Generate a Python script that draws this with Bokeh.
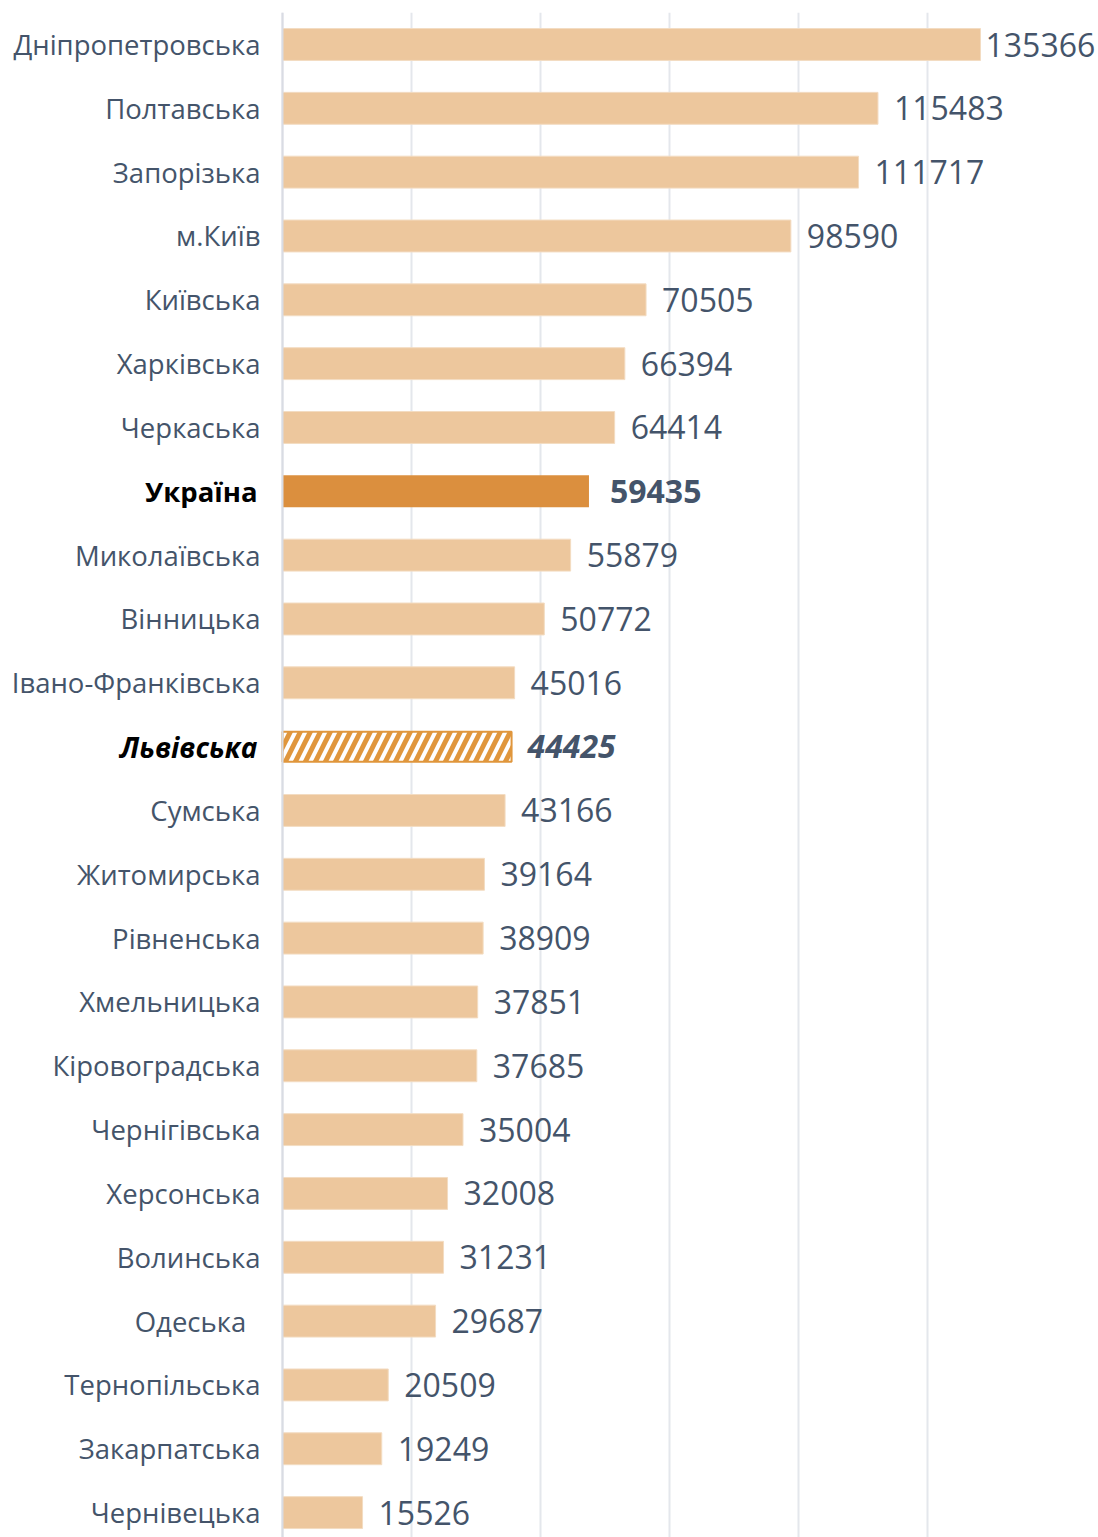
from bokeh.plotting import figure
from bokeh.models import Range1d, FixedTicker, ColumnDataSource, Span
from bokeh.core.properties import value
from bokeh.embed import file_html
from bokeh.resources import INLINE

regions = ["Дніпропетровська", "Полтавська", "Запорізька", "м.Київ", "Київська",
           "Харківська", "Черкаська", "Україна", "Миколаївська", "Вінницька",
           "Івано-Франківська", "Львівська", "Сумська", "Житомирська", "Рівненська",
           "Хмельницька", "Кіровоградська", "Чернігівська", "Херсонська", "Волинська",
           "Одеська\u00a0\u00a0", "Тернопільська", "Закарпатська", "Чернівецька"]
values = [135366, 115483, 111717, 98590, 70505, 66394, 64414, 59435, 55879, 50772,
          45016, 44425, 43166, 39164, 38909, 37851, 37685, 35004, 32008, 31231,
          29687, 20509, 19249, 15526]
tick_values = [0, 25000, 50000, 75000, 100000, 125000]
country = "Україна"
hatched = "Львівська"

W, H = 1098, 1537
top_border = 12
axis_px = 282            # pixel position of zero within the frame
px_per_unit = 698 / 135366
row_px = 63.83
first_center_px = 32

x_start = -axis_px / px_per_unit
x_end = (W - axis_px) / px_per_unit
frame_h = H - top_border
y_top = -first_center_px / row_px
y_bottom = (frame_h - first_center_px) / row_px

FONT = value("Open Sans")
TEXT_COL = "#44546A"
LIGHT = "#EDC79D"
DARK = "#DB8F3E"
HATCH = "#E0963C"

p = figure(width=W, height=H, output_backend="svg", toolbar_location=None,
           x_range=Range1d(x_start, x_end), y_range=Range1d(y_bottom, y_top),
           min_border_left=0, min_border_right=0, min_border_bottom=0,
           min_border_top=top_border)
p.outline_line_color = None
p.xaxis.visible = False
p.yaxis.visible = False
p.ygrid.visible = False
p.xgrid.ticker = FixedTicker(ticks=tick_values)
p.xgrid.grid_line_color = "#E4E7EC"
p.xgrid.grid_line_width = 2
p.background_fill_color = "white"
p.border_fill_color = "white"

p.add_layout(Span(location=0, dimension="height", line_color="#D9DCE3", line_width=2))

idx = list(range(len(regions)))
normal = [i for i in idx if regions[i] not in (country, hatched)]
ci = regions.index(country)
hi = regions.index(hatched)

src_n = ColumnDataSource(dict(y=[i for i in normal], v=[values[i] for i in normal],
                              lab=[regions[i] for i in normal],
                              vl=[str(values[i]) for i in normal],
                              off=[5 if values[i] == max(values) else 16 for i in normal]))
p.hbar(y="y", left=0, right="v", height=0.5, source=src_n,
       fill_color=LIGHT, line_color="#F3DCC2", line_width=1)
p.hbar(y=[ci], left=0, right=[values[ci]], height=0.5, fill_color=DARK, line_color=None)
p.hbar(y=[hi], left=0, right=[values[hi]], height=0.47, fill_color="white",
       line_color=HATCH, line_width=2, hatch_pattern="/", hatch_color=HATCH,
       hatch_scale=20, hatch_weight=5)

# category labels
p.text(x=0, y="y", text="lab", source=src_n, x_offset=-22, text_align="right",
       text_baseline="middle", text_font=FONT, text_font_size="27.5px", text_color=TEXT_COL)
p.text(x=[0], y=[ci], text=[regions[ci]], x_offset=-25, text_align="right",
       text_baseline="middle", text_font=FONT, text_font_size="27.5px",
       text_font_style="bold", text_color="#000000")
p.text(x=[0], y=[hi], text=[regions[hi]], x_offset=-25, text_align="right",
       text_baseline="middle", text_font=FONT, text_font_size="28px",
       text_font_style="bold italic", text_color="#000000")

# value labels
p.text(x="v", y="y", text="vl", source=src_n, x_offset="off", text_align="left",
       text_baseline="middle", text_font=FONT, text_font_size="32px", text_color=TEXT_COL)
p.text(x=[values[ci]], y=[ci], text=[str(values[ci])], x_offset=21, text_align="left",
       text_baseline="middle", text_font=FONT, text_font_size="32px",
       text_font_style="bold", text_color=TEXT_COL)
p.text(x=[values[hi]], y=[hi], text=[str(values[hi])], x_offset=16, text_align="left",
       text_baseline="middle", text_font=FONT, text_font_size="32px",
       text_font_style="bold italic", text_color=TEXT_COL)

open("out.html", "w").write(file_html(p, INLINE))
